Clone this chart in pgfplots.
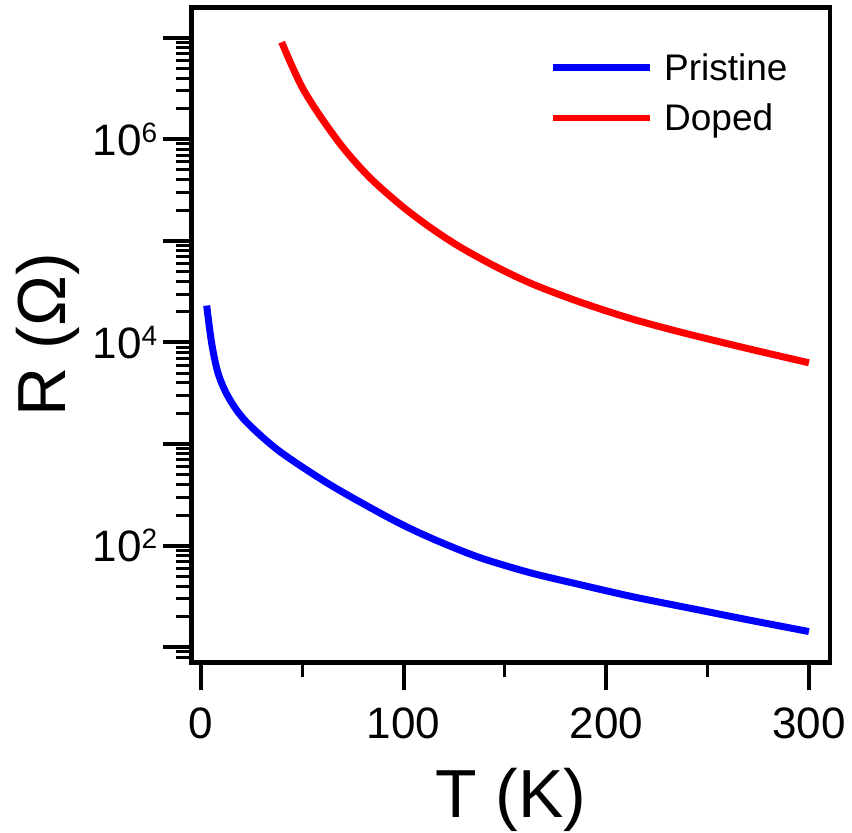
\documentclass[border=0pt]{standalone}
\usepackage{pgfplots}
\pgfplotsset{compat=1.18}
\usepackage{fontspec}
\setmainfont{Liberation Sans}
\begin{document}
\begin{tikzpicture}
\path[use as bounding box] (-191.5pt,-170.5pt) rectangle (660.5pt,662.5pt);
\begin{axis}[
  at={(0pt,0pt)}, anchor=south west,
  scale only axis,
  width=638.5pt, height=655.2pt,
  ymode=log,
  xmin=-4.7, xmax=310.4,
  ymin=7.09, ymax=1.99e7,
  axis line style={line width=4.5pt},
  every tick/.style={black, line width=4pt},
  every minor tick/.style={black, line width=3pt},
  tick align=outside,
  xtick pos=bottom, ytick pos=left,
  major tick length=28pt, minor tick length=15pt,
  xtick={0,100,200,300},
  minor xtick={50,150,250},
  ytick={1e1,1e2,1e3,1e4,1e5,1e6,1e7},
  yticklabels={,10\raisebox{13pt}{\fontsize{28}{28}\selectfont 2},,10\raisebox{13pt}{\fontsize{28}{28}\selectfont 4},,10\raisebox{13pt}{\fontsize{28}{28}\selectfont 6},},
  minor ytick={8,9,20,30,40,50,60,70,80,90,200,300,400,500,600,700,800,900,2000,3000,4000,5000,6000,7000,8000,9000,2e4,3e4,4e4,5e4,6e4,7e4,8e4,9e4,2e5,3e5,4e5,5e5,6e5,7e5,8e5,9e5,2e6,3e6,4e6,5e6,6e6,7e6,8e6,9e6},
  /pgf/number format/assume math mode=true,
  ticklabel style={font=\fontsize{44}{44}\selectfont, inner sep=0pt},
  xticklabel style={yshift=-17pt},
  yticklabel style={xshift=-6pt},
  xlabel={T (K)}, ylabel={R (Ω)},
  label style={font=\fontsize{68}{68}\selectfont},
  xlabel style={at={(axis description cs:0.5,-0.2373)}, anchor=base},
  ylabel style={at={(axis description cs:-0.198,0.5)}, anchor=base},
  legend style={draw=none, fill=none, at={(rel axis cs:0.5607,0.933)}, anchor=north west,
    font=\fontsize{37}{37}\selectfont, inner sep=0pt, cells={anchor=west},
    column sep=9pt, row sep=18pt},
  legend image code/.code={\draw[#1, line width=6.5pt] (0pt,0pt) -- (97pt,0pt);},
]
\addplot[blue, line width=7pt, smooth, line join=round] coordinates {
(2.8,23100) (5.3,9700) (8.5,4920) (13.5,2900) (21.7,1710) (38.1,869) (62.8,408)
(88.3,210) (103.1,148) (117.9,109) (137.7,76.2) (162.3,54.3) (187,41.4)
(213.3,31.4) (246.2,23.2) (270.8,18.5) (300,14.3)
};
\addlegendentry{Pristine}
\addplot[red, line width=7pt, smooth, line join=round] coordinates {
(39.8,9.02e6) (45,5.2e6) (50.5,3.09e6) (58.7,1.70e6) (70.2,8.22e5) (83.4,4.17e5) (99,2.21e5)
(113,1.36e5) (127.8,8.71e4) (145.9,5.52e4) (164,3.73e4) (187,2.50e4)
(211.6,1.73e4) (236.3,1.27e4) (269.2,8.77e3) (300,6.31e3)
};
\addlegendentry{Doped}
\end{axis}
\end{tikzpicture}
\end{document}
